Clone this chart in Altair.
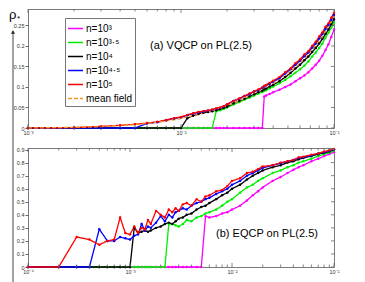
import altair as alt
import pandas as pd

FONT = "Liberation Sans"
W = 306
H_TOP = 119
H_BOT = 119

series_labels = ["n=10³", "n=10³·⁵", "n=10⁴", "n=10⁴·⁵", "n=10⁵", "mean field"]
series_colors = ["#ff00ff", "#00ee00", "#000000", "#0000ff", "#ff0000", "#f39a1e"]
series_dash = [[1, 0], [1, 0], [1, 0], [1, 0], [1, 0], [4, 2]]

# ---------------- panel (a): VQCP ----------------
top_x = [0.001, 0.002, 0.003, 0.004, 0.005, 0.006, 0.007, 0.008, 0.009, 0.010,
         0.011, 0.012, 0.013, 0.014, 0.015, 0.016, 0.017, 0.018, 0.019, 0.020,
         0.022, 0.024, 0.026, 0.028, 0.030, 0.032, 0.034, 0.035, 0.036, 0.038, 0.040,
         0.044, 0.048, 0.052, 0.056, 0.060, 0.064, 0.068, 0.072, 0.076, 0.080, 0.084,
         0.088, 0.092, 0.096, 0.100]
top_n3 = [0, 0, 0, 0, 0, 0, 0, 0, 0, 0,
          0, 0, 0, 0, 0, 0, 0, 0, 0, 0,
          0, 0, 0, 0, 0, 0, 0, 0.077, 0.079, 0.083, 0.087,
          0.093, 0.100, 0.106, 0.114, 0.121, 0.128, 0.136, 0.145, 0.154, 0.164, 0.176,
          0.190, 0.204, 0.222, 0.240]
top_n35 = [0, 0, 0, 0, 0, 0, 0, 0, 0, 0,
           0, 0, 0, 0, 0, 0, 0.041, 0.043, 0.046, 0.050,
           0.057, 0.063, 0.069, 0.074, 0.079, 0.084, 0.088, 0.091, 0.092, 0.097, 0.101,
           0.109, 0.117, 0.126, 0.135, 0.143, 0.152, 0.162, 0.174, 0.184, 0.195, 0.206,
           0.220, 0.232, 0.244, 0.256]
top_n4 = [0, 0, 0, 0, 0, 0, 0, 0, 0, 0,
          0.024, 0.030, 0.034, 0.037, 0.039, 0.041, 0.043, 0.046, 0.049, 0.052,
          0.060, 0.066, 0.071, 0.077, 0.082, 0.087, 0.091, 0.094, 0.096, 0.101, 0.105,
          0.114, 0.124, 0.134, 0.145, 0.154, 0.165, 0.174, 0.185, 0.195, 0.206, 0.217,
          0.229, 0.240, 0.252, 0.265]
top_n45 = [0, 0, 0, 0, 0, 0.011, 0.014, 0.019, 0.023, 0.026,
           0.031, 0.035, 0.038, 0.040, 0.042, 0.044, 0.047, 0.049, 0.052, 0.057,
           0.066, 0.071, 0.078, 0.082, 0.089, 0.092, 0.098, 0.101, 0.104, 0.108, 0.113,
           0.121, 0.133, 0.143, 0.154, 0.164, 0.175, 0.184, 0.196, 0.206, 0.218, 0.229,
           0.241, 0.251, 0.263, 0.276]
top_n5 = [0, 0.001, 0.004, 0.0065, 0.009, 0.012, 0.015, 0.0195, 0.024, 0.027,
          0.032, 0.036, 0.039, 0.041, 0.043, 0.045, 0.048, 0.050, 0.053, 0.058,
          0.066, 0.072, 0.078, 0.084, 0.089, 0.094, 0.099, 0.103, 0.105, 0.110, 0.115,
          0.124, 0.136, 0.145, 0.158, 0.167, 0.179, 0.187, 0.200, 0.210, 0.223, 0.233,
          0.247, 0.255, 0.269, 0.281]
top_mean = [0, 0.0015, 0.0035, 0.006, 0.0085, 0.011, 0.014, 0.017, 0.020, 0.023,
            0.027, 0.030, 0.033, 0.036, 0.039, 0.042, 0.045, 0.048, 0.051, 0.054,
            0.060, 0.066, 0.072, 0.078, 0.083, 0.088, 0.093, 0.096, 0.098, 0.103, 0.108,
            0.117, 0.127, 0.137, 0.148, 0.158, 0.168, 0.179, 0.190, 0.201, 0.212, 0.224,
            0.236, 0.248, 0.260, 0.272]

# ---------------- panel (b): EQCP ----------------
bot_x = [0.0001, 0.0002, 0.0003, 0.0004, 0.0005, 0.0006, 0.0007, 0.0008, 0.0009, 0.001,
         0.0011, 0.0012, 0.0013, 0.0014, 0.0015, 0.0016, 0.0018, 0.002, 0.0022, 0.0024,
         0.0026, 0.0028, 0.003, 0.0033, 0.0036, 0.004, 0.0045, 0.005, 0.0055, 0.006,
         0.007, 0.008, 0.009, 0.01, 0.012, 0.014, 0.016, 0.018, 0.02, 0.025,
         0.03, 0.035, 0.04, 0.045, 0.05, 0.06, 0.07, 0.08, 0.09, 0.1]
bot_n3 = [0, 0, 0, 0, 0, 0, 0, 0, 0, 0,
          0, 0, 0, 0, 0, 0, 0, 0, 0, 0,
          0, 0, 0, 0, 0, 0, 0, 0, 0.39, 0.38,
          0.39, 0.41, 0.42, 0.44, 0.47, 0.51, 0.55, 0.58, 0.61, 0.66,
          0.69, 0.72, 0.745, 0.765, 0.78, 0.81, 0.83, 0.85, 0.865, 0.88]
bot_n35 = [0, 0, 0, 0, 0, 0, 0, 0, 0, 0,
           0, 0, 0, 0, 0, 0, 0, 0, 0, 0.33,
           0.33, 0.32, 0.31, 0.33, 0.36, 0.35, 0.38, 0.39, 0.41, 0.42,
           0.44, 0.47, 0.50, 0.52, 0.57, 0.61, 0.63, 0.66, 0.68, 0.72,
           0.74, 0.765, 0.78, 0.80, 0.81, 0.83, 0.85, 0.865, 0.875, 0.89]
bot_n4 = [0, 0, 0, 0, 0, 0, 0, 0, 0, 0,
          0.30, 0.26, 0.27, 0.28, 0.27, 0.28, 0.30, 0.31, 0.33, 0.34,
          0.33, 0.35, 0.37, 0.38, 0.40, 0.41, 0.44, 0.46, 0.47, 0.49,
          0.52, 0.55, 0.57, 0.60, 0.63, 0.67, 0.70, 0.72, 0.74, 0.765,
          0.78, 0.80, 0.81, 0.825, 0.835, 0.85, 0.865, 0.875, 0.885, 0.90]
bot_n45 = [0, 0, 0, 0, 0.29, 0.20, 0.20, 0.23, 0.22, 0.21,
           0.24, 0.25, 0.33, 0.28, 0.31, 0.30, 0.34, 0.39, 0.35, 0.40,
           0.38, 0.42, 0.43, 0.45, 0.44, 0.47, 0.49, 0.50, 0.52, 0.53,
           0.56, 0.58, 0.60, 0.63, 0.66, 0.70, 0.72, 0.74, 0.76, 0.78,
           0.795, 0.81, 0.82, 0.835, 0.84, 0.855, 0.87, 0.88, 0.89, 0.90]
bot_n5 = [0, 0, 0.23, 0.21, 0.17, 0.20, 0.21, 0.38, 0.26, 0.25,
          0.31, 0.26, 0.30, 0.29, 0.36, 0.33, 0.43, 0.40, 0.38, 0.44,
          0.42, 0.45, 0.43, 0.48, 0.49, 0.47, 0.52, 0.50, 0.54, 0.55,
          0.58, 0.59, 0.62, 0.66, 0.68, 0.72, 0.73, 0.75, 0.77, 0.78,
          0.80, 0.81, 0.82, 0.84, 0.845, 0.86, 0.87, 0.885, 0.895, 0.905]

# ticks
top_x_major = [0.001, 0.01, 0.1]
top_x_minor = [0.002, 0.003, 0.004, 0.005, 0.006, 0.007, 0.008, 0.009,
               0.02, 0.03, 0.04, 0.05, 0.06, 0.07, 0.08, 0.09]
bot_x_major = [0.0001, 0.001, 0.01, 0.1]
bot_x_minor = [0.0002, 0.0003, 0.0004, 0.0005, 0.0006, 0.0007, 0.0008, 0.0009,
               0.002, 0.003, 0.004, 0.005, 0.006, 0.007, 0.008, 0.009,
               0.02, 0.03, 0.04, 0.05, 0.06, 0.07, 0.08, 0.09]
top_y_ticks = [0, 0.05, 0.1, 0.15, 0.2, 0.25]
bot_y_ticks = [0, 0.1, 0.2, 0.3, 0.4, 0.5, 0.6, 0.7, 0.8, 0.9]

top_note = "(a) VQCP on PL(2.5)"
bot_note = "(b) EQCP on PL(2.5)"
y_symbol = "ρ"
y_star = "*"


def long_df(xs, cols):
    rows = []
    for lab, ys in cols:
        for xv, yv in zip(xs, ys):
            rows.append({"x": xv, "y": yv, "series": lab})
    return pd.DataFrame(rows)


df_top = long_df(top_x, list(zip(series_labels, [top_n3, top_n35, top_n4, top_n45, top_n5, top_mean])))
df_bot = long_df(bot_x, list(zip(series_labels[:5], [bot_n3, bot_n35, bot_n4, bot_n45, bot_n5])))

XLABEL = ("datum.value < 0.0002 ? '10⁻⁴' : datum.value < 0.002 ? '10⁻³' : "
          "datum.value < 0.02 ? '10⁻²' : '10⁻¹'")

legend = alt.Legend(orient="none", legendX=37, legendY=9, symbolType="stroke",
                    symbolSize=225, symbolStrokeWidth=1.5, labelFont=FONT, labelFontSize=10,
                    labelColor="black", fillColor="white", strokeColor="#777", padding=2,
                    rowPadding=0, labelOffset=2)

color_scale = alt.Scale(domain=series_labels, range=series_colors)
dash_scale = alt.Scale(domain=series_labels, range=series_dash)


def panel(df, xdom, ydom, xmajor, xminor, yticks, height, note, nx, ny, first):
    x_enc = alt.X("x:Q", scale=alt.Scale(type="log", domain=xdom, nice=False),
                  axis=alt.Axis(values=xmajor, labelExpr=XLABEL, ticks=False, domain=False,
                                grid=False, labelFont=FONT, labelFontSize=5.5, labelPadding=2,
                                labelColor="#333", labelFlush=False),
                  title=None)
    y_enc = alt.Y("y:Q", scale=alt.Scale(domain=ydom, nice=False, zero=False),
                  axis=alt.Axis(values=yticks, format="~g", tickSize=3, tickColor="#666",
                                domain=False, grid=False, labelFont=FONT, labelFontSize=5.5,
                                labelPadding=1, labelColor="#333", minExtent=19, maxExtent=19),
                  title=None)
    base = alt.Chart(df)
    lines = base.mark_line(strokeWidth=1.3).encode(
        x=x_enc, y=y_enc,
        color=alt.Color("series:N", scale=color_scale, legend=legend, title=None),
        strokeDash=alt.StrokeDash("series:N", scale=dash_scale, legend=legend, title=None),
    )
    pts = base.transform_filter(alt.datum.series != "mean field").mark_circle(size=6, opacity=1).encode(
        x=x_enc, y=y_enc,
        color=alt.Color("series:N", scale=color_scale, legend=None),
    )
    tmaj = pd.DataFrame({"x": xmajor})
    tmin = pd.DataFrame({"x": xminor})
    ty = pd.DataFrame({"y": yticks})
    tick_style = dict(color="#666", strokeWidth=0.8)
    layers = [lines, pts]
    for d, L in ((tmaj, 4), (tmin, 2.5)):
        layers.append(alt.Chart(d).mark_rule(**tick_style).encode(
            x=x_enc, y=alt.value(height), y2=alt.value(height - L)))
        layers.append(alt.Chart(d).mark_rule(**tick_style).encode(
            x=x_enc, y=alt.value(0), y2=alt.value(L)))
    layers.append(alt.Chart(ty).mark_rule(**tick_style).encode(
        y=y_enc, x=alt.value(W), x2=alt.value(W - 3)))
    layers.append(alt.Chart(pd.DataFrame({"t": [note]})).mark_text(
        font=FONT, fontSize=11, color="black", align="center", baseline="middle").encode(
        text="t:N", x=alt.value(nx), y=alt.value(ny)))
    if first:
        layers.append(alt.Chart(pd.DataFrame({"t": [y_symbol]})).mark_text(
            font=FONT, fontSize=13, color="black", align="left", baseline="middle").encode(
            text="t:N", x=alt.value(-19), y=alt.value(6)))
        layers.append(alt.Chart(pd.DataFrame({"t": [y_star]})).mark_text(
            font=FONT, fontSize=8, color="black", align="left", baseline="middle").encode(
            text="t:N", x=alt.value(-11), y=alt.value(10)))
        layers.append(alt.Chart(pd.DataFrame({"t": [0]})).mark_rule(color="#444", strokeWidth=1).encode(
            x=alt.value(-15), y=alt.value(22), y2=alt.value(height + 20)))
        layers.append(alt.Chart(pd.DataFrame({"t": [0]})).mark_point(
            shape="triangle-up", filled=True, size=16, color="#222", opacity=1).encode(
            x=alt.value(-15), y=alt.value(23)))
    else:
        layers.append(alt.Chart(pd.DataFrame({"t": [0]})).mark_rule(color="#444", strokeWidth=1).encode(
            x=alt.value(-15), y=alt.value(0), y2=alt.value(height + 16)))
    return alt.layer(*layers).properties(width=W, height=height)


top = panel(df_top, [0.001, 0.1], [0, 0.29], top_x_major, top_x_minor, top_y_ticks,
            H_TOP, top_note, 173, 37, True)
bot = panel(df_bot, [0.0001, 0.1], [0, 0.912], bot_x_major, bot_x_minor, bot_y_ticks,
            H_BOT, bot_note, 239, 86, False)

chart = alt.vconcat(top, bot, spacing=20, bounds="flush").resolve_scale(
    x="independent", y="independent").properties(
    padding={"left": 0, "top": 0, "right": 6, "bottom": 0}
).configure(font=FONT).configure_view(stroke="#7a7a7a", strokeWidth=1)

chart.save("out.html", embed_options={"renderer": "svg", "actions": False})
